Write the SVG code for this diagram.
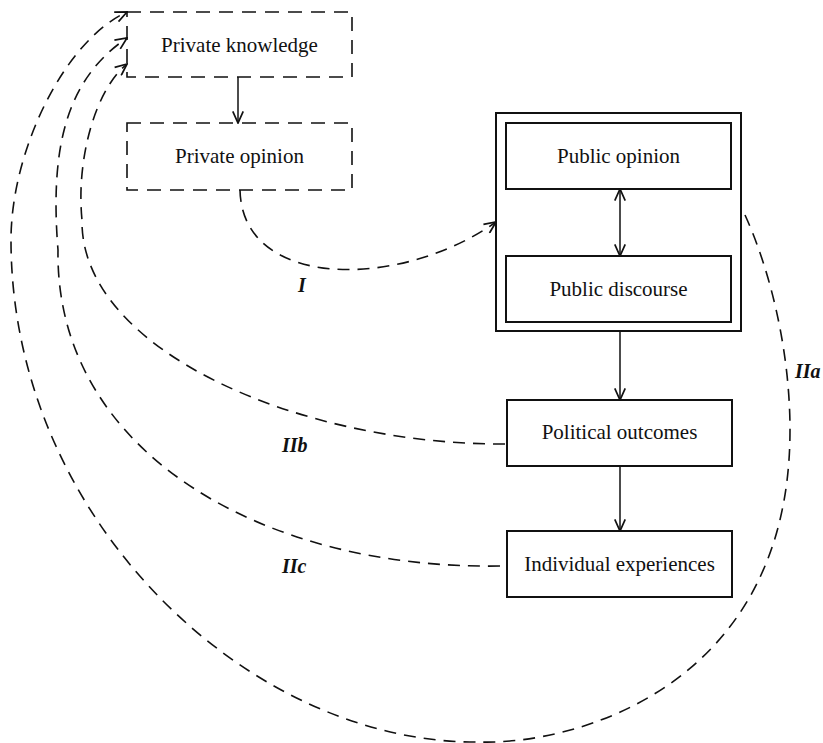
<svg xmlns="http://www.w3.org/2000/svg" width="823" height="743" viewBox="0 0 823 743">
<defs>
<style>
.box{fill:none;stroke:#111;stroke-width:2}
.dbox{fill:none;stroke:#111;stroke-width:1.6;stroke-dasharray:14 9}
.lbl{font-family:"Liberation Serif",serif;font-size:21px;fill:#111;text-anchor:middle}
.tag{font-family:"Liberation Serif",serif;font-size:20px;font-style:italic;font-weight:bold;fill:#111}
.solid{fill:none;stroke:#111;stroke-width:1.5}
.dash{fill:none;stroke:#111;stroke-width:1.6;stroke-dasharray:12 8}
</style>
<marker id="ah" markerUnits="userSpaceOnUse" markerWidth="14" markerHeight="12" viewBox="0 0 12 10" refX="11" refY="5" orient="auto">
<path d="M1,0.5 L11,5 L1,9.5" fill="none" stroke="#111" stroke-width="1.5" stroke-dasharray="none"/>
</marker>
<marker id="ahs" markerUnits="userSpaceOnUse" markerWidth="14" markerHeight="12" viewBox="0 0 12 10" refX="11" refY="5" orient="auto-start-reverse">
<path d="M1,0.5 L11,5 L1,9.5" fill="none" stroke="#111" stroke-width="1.5"/>
</marker>
</defs>
<rect width="823" height="743" fill="#fff"/>

<g id="private-knowledge">
<rect class="dbox" x="127" y="12" width="225" height="65"/>
<text class="lbl" x="239.5" y="52">Private knowledge</text>
</g>
<g id="private-opinion">
<rect class="dbox" x="127" y="123" width="225" height="67"/>
<text class="lbl" x="239.5" y="163">Private opinion</text>
</g>
<g id="public-sphere">
<rect class="box" x="496" y="113" width="245" height="218"/>
</g>
<g id="public-opinion">
<rect class="box" x="506" y="123" width="225" height="66"/>
<text class="lbl" x="618.5" y="163">Public opinion</text>
</g>
<g id="public-discourse">
<rect class="box" x="506" y="256" width="225" height="66"/>
<text class="lbl" x="618.5" y="296">Public discourse</text>
</g>
<g id="political-outcomes">
<rect class="box" x="507" y="400" width="225" height="66"/>
<text class="lbl" x="619.5" y="439">Political outcomes</text>
</g>
<g id="individual-experiences">
<rect class="box" x="507" y="531" width="225" height="66"/>
<text class="lbl" x="619.5" y="571">Individual experiences</text>
</g>

<g id="connectors">
<path class="solid" d="M238,77 L238,123" marker-end="url(#ah)"/>
<path class="solid" d="M620,189 L620,256" marker-start="url(#ahs)" marker-end="url(#ah)"/>
<path class="solid" d="M620,331 L620,400" marker-end="url(#ah)"/>
<path class="solid" d="M620,466 L620,531" marker-end="url(#ah)"/>
<path id="c-I" class="dash" d="M240,190 C242,290 400,290 496,222" marker-end="url(#ah)"/>
<path id="c-IIa" class="dash" d="M745,215 C770,270 790,350 790,430 C790,690 570,745 480,742 C250,745 11,520 11,240 C11,150 65,40 127,12" marker-end="url(#ah)"/>
<path id="c-IIb" class="dash" d="M505,444 C300,445 80,350 82,220 C76,160 95,90 127,64" marker-end="url(#ah)"/>
<path id="c-IIc" class="dash" d="M500,566 C260,570 55,450 58,250 C50,150 65,80 127,38" marker-end="url(#ah)"/>
<text class="tag" x="298" y="292">I</text>
<text class="tag" x="795" y="378">IIa</text>
<text class="tag" x="282" y="452">IIb</text>
<text class="tag" x="282" y="573">IIc</text>
</g>
</svg>
